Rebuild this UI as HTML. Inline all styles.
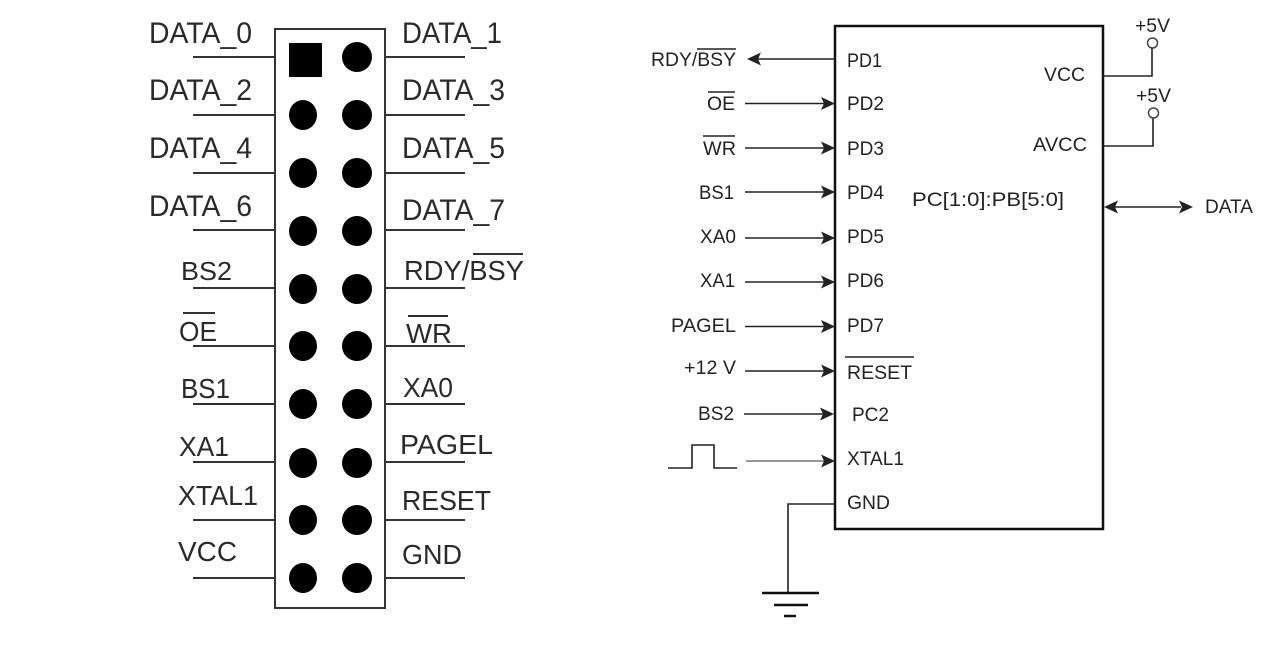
<!DOCTYPE html>
<html><head><meta charset="utf-8"><style>
html,body{margin:0;padding:0;background:#fff;width:1280px;height:652px;overflow:hidden}
svg{display:block;filter:blur(0.35px)}
.a text{font:28px "Liberation Sans",sans-serif;fill:#2a2a2a}
.a text.d{font-size:30px}
.a text.s{font-size:26px}
.b text{font:19px "Liberation Sans",sans-serif;fill:#222}
.l{stroke:#333;stroke-width:2;fill:none}
.m{stroke:#222;stroke-width:1.6;fill:none}
</style></head><body>
<svg width="1280" height="652" viewBox="0 0 1280 652" xmlns="http://www.w3.org/2000/svg">
<rect width="1280" height="652" fill="#fff"/>
<defs>
<path id="ar" d="M0 0L-14 -6.5L-11 0L-14 6.5Z" fill="#222"/>
<path id="al" d="M0 0L14 -6.5L11 0L14 6.5Z" fill="#222"/>
</defs>

<g class="l">
<rect x="275" y="29" width="110" height="579"/>
<path d="M193 57H275M193 115H275M193 173H275M193 230H275M193 288H275M193 346H275M193 404H275M193 462H275M193 520H275M193 578H275"/>
<path d="M385 57H465M385 115H465M385 173H465M385 230H465M385 288H465M385 346H465M385 404H465M385 462H465M385 520H465M385 578H465"/>
<path d="M473 254H523M183 313H215M408 316H448"/>
</g>
<rect x="289" y="43" width="33" height="34" fill="#000"/>
<g fill="#000">
<ellipse cx="357" cy="57" rx="15" ry="15"/>
<ellipse cx="303" cy="115" rx="14" ry="15"/><ellipse cx="357" cy="115" rx="15" ry="15"/>
<ellipse cx="303" cy="173" rx="14" ry="15"/><ellipse cx="357" cy="173" rx="15" ry="15"/>
<ellipse cx="303" cy="231" rx="14" ry="15"/><ellipse cx="357" cy="231" rx="15" ry="15"/>
<ellipse cx="303" cy="289" rx="14" ry="15"/><ellipse cx="357" cy="289" rx="15" ry="15"/>
<ellipse cx="303" cy="346" rx="14" ry="15"/><ellipse cx="357" cy="346" rx="15" ry="15"/>
<ellipse cx="303" cy="404" rx="14" ry="15"/><ellipse cx="357" cy="404" rx="15" ry="15"/>
<ellipse cx="303" cy="463" rx="14" ry="15"/><ellipse cx="357" cy="463" rx="15" ry="15"/>
<ellipse cx="303" cy="520" rx="14" ry="15"/><ellipse cx="357" cy="520" rx="15" ry="15"/>
<ellipse cx="303" cy="578" rx="14" ry="15"/><ellipse cx="357" cy="578" rx="15" ry="15"/>
</g>
<g class="a">
<text class="d" x="149" y="43" textLength="103" lengthAdjust="spacingAndGlyphs">DATA_0</text>
<text class="d" x="149" y="100" textLength="103" lengthAdjust="spacingAndGlyphs">DATA_2</text>
<text class="d" x="149" y="158" textLength="103" lengthAdjust="spacingAndGlyphs">DATA_4</text>
<text class="d" x="149" y="216" textLength="103" lengthAdjust="spacingAndGlyphs">DATA_6</text>
<text class="s" x="181" y="280" textLength="51" lengthAdjust="spacingAndGlyphs">BS2</text>
<text x="179" y="341" textLength="38" lengthAdjust="spacingAndGlyphs">OE</text>
<text x="181" y="398" textLength="49" lengthAdjust="spacingAndGlyphs">BS1</text>
<text x="179" y="456" textLength="50" lengthAdjust="spacingAndGlyphs">XA1</text>
<text x="178" y="505" textLength="80" lengthAdjust="spacingAndGlyphs">XTAL1</text>
<text x="178" y="561" textLength="59" lengthAdjust="spacingAndGlyphs">VCC</text>
<text class="d" x="402" y="43" textLength="100" lengthAdjust="spacingAndGlyphs">DATA_1</text>
<text class="d" x="402" y="100" textLength="103" lengthAdjust="spacingAndGlyphs">DATA_3</text>
<text class="d" x="402" y="158" textLength="103" lengthAdjust="spacingAndGlyphs">DATA_5</text>
<text class="d" x="402" y="220" textLength="103" lengthAdjust="spacingAndGlyphs">DATA_7</text>
<text x="404" y="280" textLength="120" lengthAdjust="spacingAndGlyphs">RDY/BSY</text>
<text x="406" y="343" textLength="46" lengthAdjust="spacingAndGlyphs">WR</text>
<text x="403" y="397" textLength="50" lengthAdjust="spacingAndGlyphs">XA0</text>
<text x="400" y="454" textLength="93" lengthAdjust="spacingAndGlyphs">PAGEL</text>
<text x="402" y="510" textLength="89" lengthAdjust="spacingAndGlyphs">RESET</text>
<text x="402" y="564" textLength="60" lengthAdjust="spacingAndGlyphs">GND</text>
</g>

<rect x="835" y="26" width="268" height="503" fill="none" stroke="#111" stroke-width="2.5"/>
<g class="m">
<path d="M758 59H835M745 103.5H824M745 148H824M745 192H824M745 238H824M745 282H824M745 326.5H824M745 371H824M744 414H824"/>
<path d="M746 461H824" stroke="#777"/>
<path d="M668 468H692V445H714V468H737"/>
<path d="M835 504H788V593"/>
<path d="M1103 76H1152V48M1103 146H1153V118"/>
<path d="M1115 207H1181"/>
<path d="M697 49H736M708 92H735M703 136H735M845 357H914" stroke-width="1.4"/>
</g>
<path d="M762 593H819M774 605H808M784 616H796" stroke="#111" stroke-width="2.5" fill="none"/>
<circle cx="1152.5" cy="43" r="5" fill="#fff" stroke="#444" stroke-width="1.5"/>
<circle cx="1153.5" cy="113" r="5" fill="#fff" stroke="#444" stroke-width="1.5"/>
<use href="#al" x="747" y="59"/>
<use href="#ar" x="835" y="103.5"/><use href="#ar" x="835" y="148"/><use href="#ar" x="835" y="192"/>
<use href="#ar" x="835" y="238"/><use href="#ar" x="835" y="282"/><use href="#ar" x="835" y="326.5"/>
<use href="#ar" x="835" y="371"/><use href="#ar" x="834" y="414"/><use href="#ar" x="835" y="461"/>
<use href="#al" x="1104" y="207"/><use href="#ar" x="1193" y="207"/>

<g class="b">
<text x="651" y="66" textLength="85" lengthAdjust="spacingAndGlyphs">RDY/BSY</text>
<text x="707" y="110" textLength="28" lengthAdjust="spacingAndGlyphs">OE</text>
<text x="703" y="155" textLength="33" lengthAdjust="spacingAndGlyphs">WR</text>
<text x="699" y="199" textLength="35" lengthAdjust="spacingAndGlyphs">BS1</text>
<text x="700" y="243" textLength="36" lengthAdjust="spacingAndGlyphs">XA0</text>
<text x="700" y="287" textLength="35" lengthAdjust="spacingAndGlyphs">XA1</text>
<text x="671" y="332" textLength="65" lengthAdjust="spacingAndGlyphs">PAGEL</text>
<text x="684" y="374" textLength="52" lengthAdjust="spacingAndGlyphs">+12 V</text>
<text x="698" y="420" textLength="36" lengthAdjust="spacingAndGlyphs">BS2</text>
<text x="847" y="67" textLength="35" lengthAdjust="spacingAndGlyphs">PD1</text>
<text x="847" y="110" textLength="37" lengthAdjust="spacingAndGlyphs">PD2</text>
<text x="847" y="155" textLength="37" lengthAdjust="spacingAndGlyphs">PD3</text>
<text x="847" y="199" textLength="37" lengthAdjust="spacingAndGlyphs">PD4</text>
<text x="847" y="243" textLength="37" lengthAdjust="spacingAndGlyphs">PD5</text>
<text x="847" y="287" textLength="37" lengthAdjust="spacingAndGlyphs">PD6</text>
<text x="847" y="332" textLength="37" lengthAdjust="spacingAndGlyphs">PD7</text>
<text x="847" y="379" textLength="65" lengthAdjust="spacingAndGlyphs">RESET</text>
<text x="852" y="421" textLength="37" lengthAdjust="spacingAndGlyphs">PC2</text>
<text x="847" y="465" textLength="57" lengthAdjust="spacingAndGlyphs">XTAL1</text>
<text x="847" y="509" textLength="43" lengthAdjust="spacingAndGlyphs">GND</text>
<text x="1044" y="81" textLength="41" lengthAdjust="spacingAndGlyphs">VCC</text>
<text x="1033" y="151" textLength="54" lengthAdjust="spacingAndGlyphs">AVCC</text>
<text x="912" y="206" textLength="152" lengthAdjust="spacingAndGlyphs">PC[1:0]:PB[5:0]</text>
<text x="1205" y="213" textLength="48" lengthAdjust="spacingAndGlyphs">DATA</text>
<text x="1135" y="32" textLength="35" lengthAdjust="spacingAndGlyphs">+5V</text>
<text x="1136" y="102" textLength="35" lengthAdjust="spacingAndGlyphs">+5V</text>
</g>
</svg>
</body></html>
